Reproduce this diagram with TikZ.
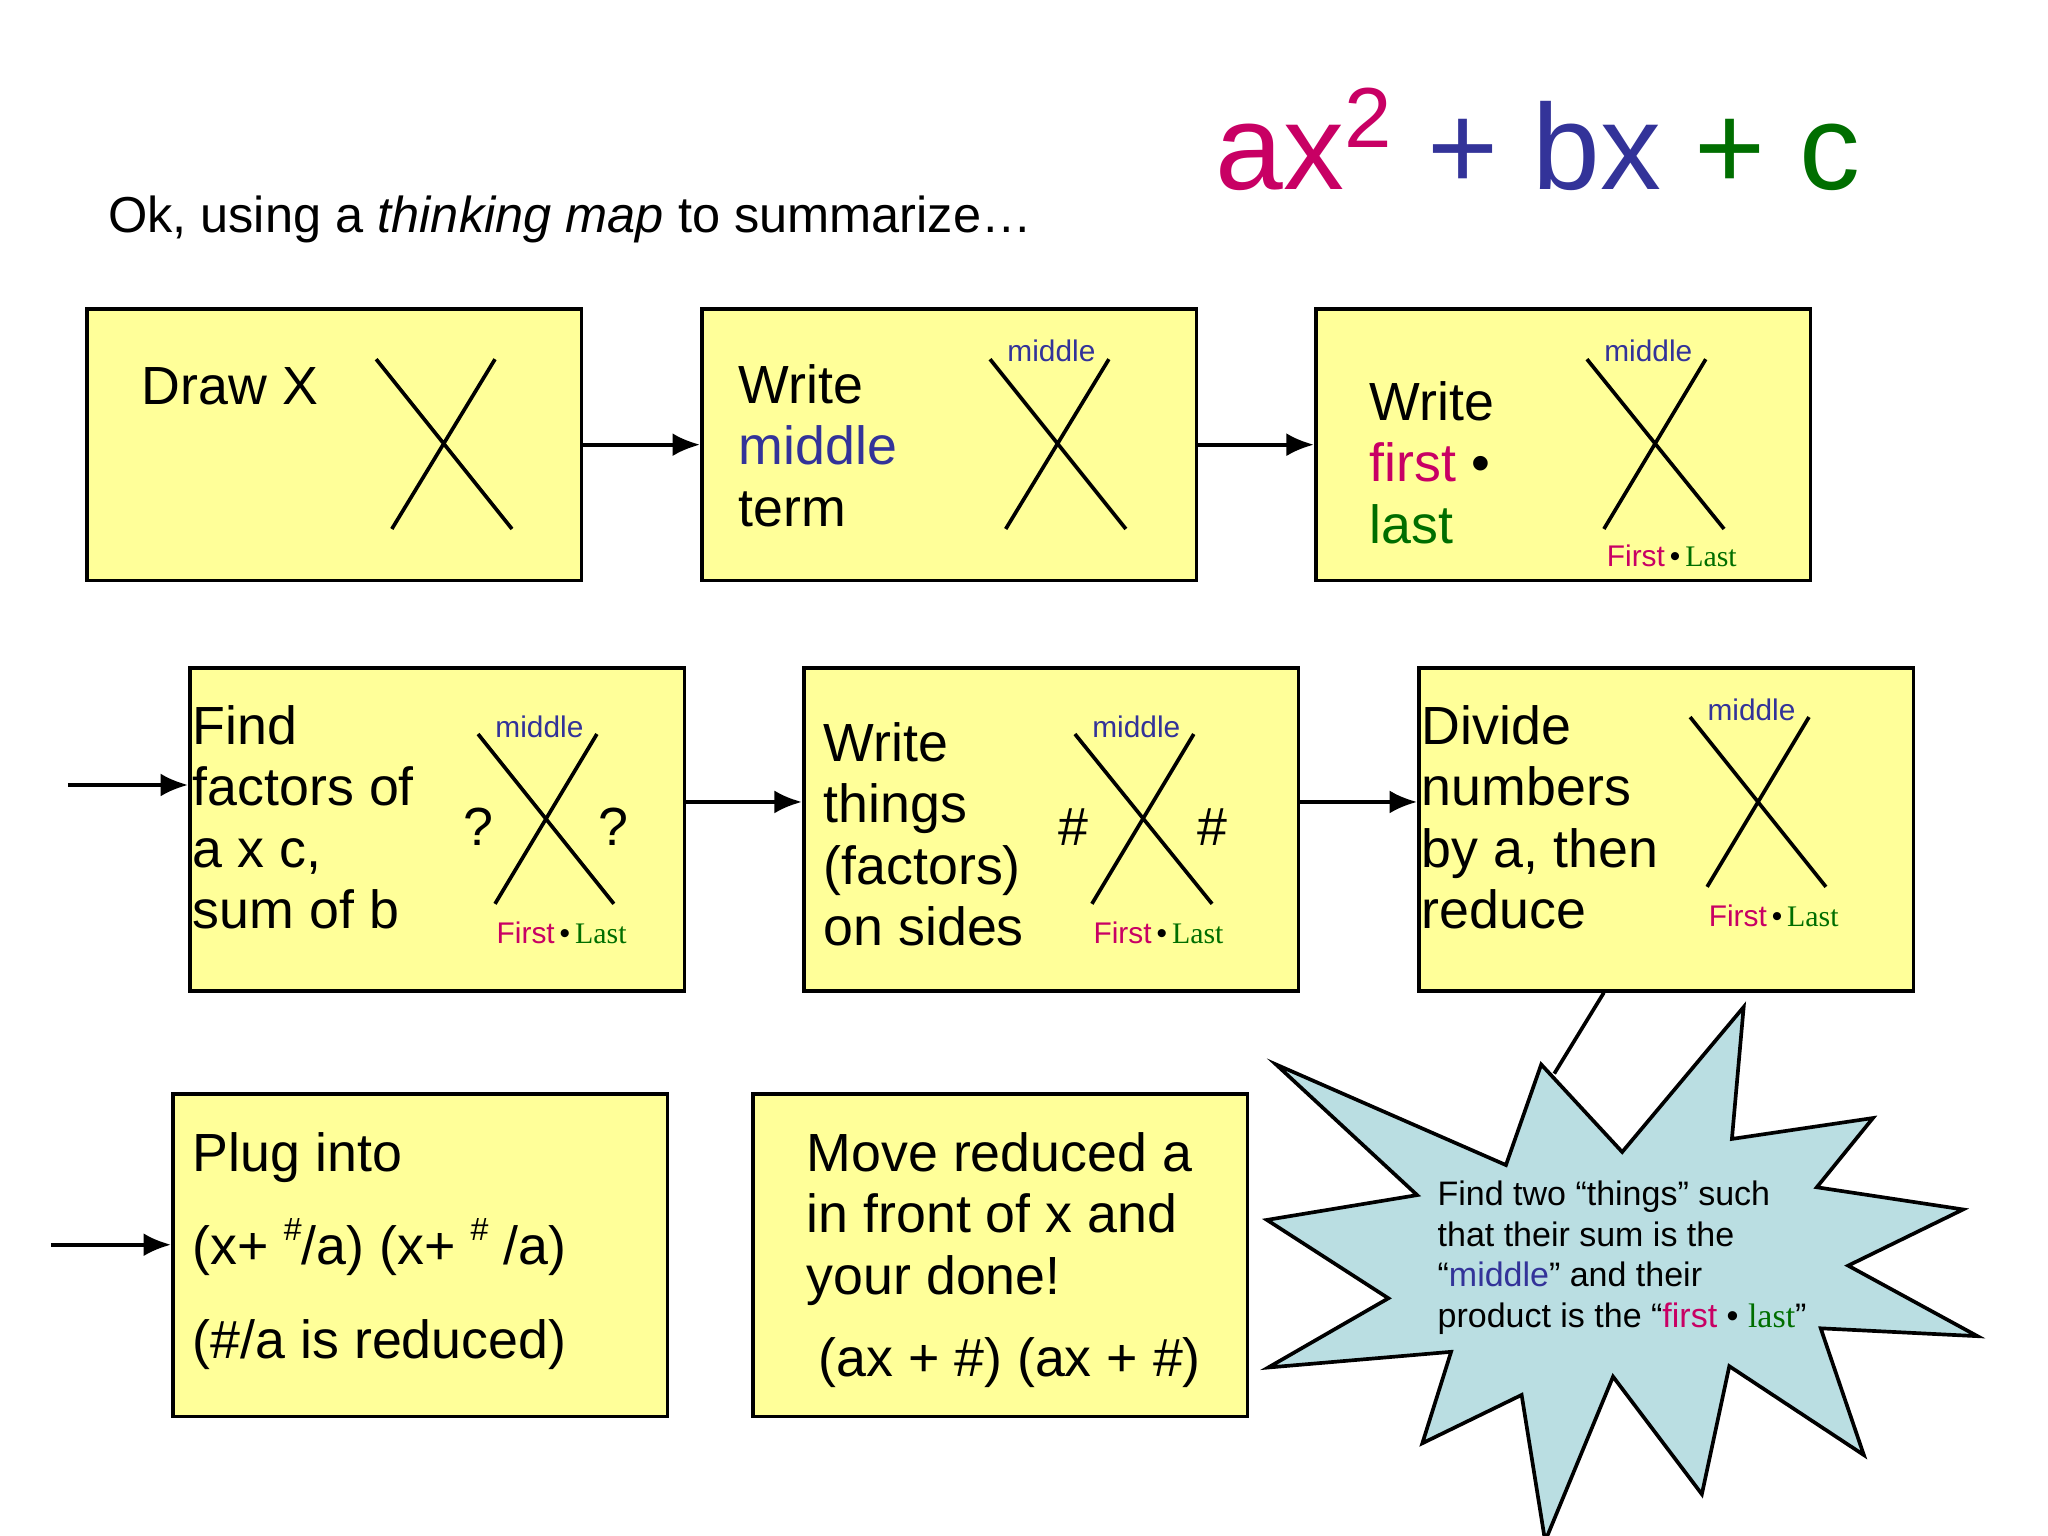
\documentclass[tikz,border=0pt]{standalone}
\usepackage{fontspec}
\setmainfont{Liberation Sans}
\newfontfamily\serifft{Liberation Serif}
\usetikzlibrary{arrows.meta}
\definecolor{mag}{RGB}{200,0,100}
\definecolor{blu}{RGB}{51,51,153}
\definecolor{grn}{RGB}{0,110,0}
\definecolor{boxfill}{RGB}{255,255,153}
\definecolor{starfill}{RGB}{186,222,226}
\newcommand{\FL}{{\color{mag}First}\,\textbullet\,{\serifft\color{grn}Last}}
\tikzset{
  bx/.style={draw=black,fill=boxfill,line width=0.8pt,anchor=north west,inner sep=0pt,minimum width=3.785cm},
  rowa/.style={minimum height=2.08cm},
  rowb/.style={minimum height=2.47cm},
  conn/.style={-{Latex[length=6pt,width=5pt]},line width=0.8pt},
  xl/.style={line width=0.8pt},
  big/.style={anchor=base west,align=left,inner sep=0pt,font=\fontsize{11.7pt}{13.38pt}\selectfont},
  sm/.style={inner sep=0pt,font=\fontsize{6.5pt}{8pt}\selectfont},
  mid/.style={sm,text=blu,anchor=base},
}
\begin{document}
\begin{tikzpicture}[x=0.01cm,y=-0.01cm]
\useasboundingbox (0,0) rectangle (1568,1176);
\fill[white] (0,0) rectangle (1568,1176);
% title
\node[anchor=base west,inner sep=0pt,font=\fontsize{11pt}{13pt}\selectfont] (title) at (82,178) {Ok, using a \textit{thinking map} to summarize\ldots};
\node[anchor=base west,inner sep=0pt,font=\fontsize{26.5pt}{30pt}\selectfont] (eq) at (930,145) {{\color{mag}ax\textsuperscript{2}} {\color{blu}+ bx} {\color{grn}+ c}};
% boxes
\node[bx,rowa] (b1) at (65,235) {};
\node[bx,rowa] (b2) at (536,235) {};
\node[bx,rowa] (b3) at (1006,235) {};
\node[bx,rowb] (b4) at (144,510) {};
\node[bx,rowb] (b5) at (614,510) {};
\node[bx,rowb] (b6) at (1085,510) {};
\node[bx,rowb] (b7) at (131,836) {};
\node[bx,rowb] (b8) at (575,836) {};
% arrows
\draw[conn] (b1.east) -- (b2.west);
\draw[conn] (b2.east) -- (b3.west);
\coordinate (s4) at (52,601);
\draw[conn] (s4) -- (b4.west |- s4);
\coordinate (y5) at (0,614);
\draw[conn] (b4.east |- y5) -- (b5.west |- y5);
\draw[conn] (b5.east |- y5) -- (b6.west |- y5);
\coordinate (s7) at (39,953);
\draw[conn] (s7) -- (b7.west |- s7);
% crosses
\draw[xl] (288,275) -- (392,405) (379,275) -- (300,405);
\draw[xl] (758,275) -- (862,405) (849,275) -- (770,405);
\draw[xl] (1215,275) -- (1320,405) (1306,275) -- (1228,405);
\draw[xl] (366,562) -- (470,692) (457,562) -- (379,692);
\draw[xl] (823,562) -- (928,692) (914,562) -- (836,692);
\draw[xl] (1294,549) -- (1398,679) (1385,549) -- (1307,679);
% small labels
\node[mid] (m2) at (805,277) {middle};
\node[mid] (m3) at (1262,277) {middle};
\node[mid] (m4) at (413,565) {middle};
\node[mid] (m5) at (870,565) {middle};
\node[mid] (m6) at (1341,552) {middle};
\node[sm,anchor=base] (f3) at (1280,434) {\FL};
\node[sm,anchor=base] (f4) at (430,722) {\FL};
\node[sm,anchor=base] (f5) at (887,722) {\FL};
\node[sm,anchor=base] (f6) at (1358,709) {\FL};
\node[big,anchor=base] (q1) at (366,647) {?};
\node[big,anchor=base] (q2) at (470,647) {?};
\node[big,anchor=base] (h1) at (822,647) {\#};
\node[big,anchor=base] (h2) at (928,647) {\#};
% box texts (anchored at baseline of last line)
\node[big] (t1) at (108,310) {Draw X};
\node[big] (t2) at (565,403) {Write\\{\color{blu}middle}\\term};
\node[big] (t3) at (1048,416) {Write\\{\color{mag}first} \textbullet\\{\color{grn}last}};
\node[big] (t4) at (147,711) {Find\\factors of\\a x c,\\sum of b};
\node[big] (t5) at (630,724) {Write\\things\\(factors)\\on sides};
\node[big] (t6) at (1088,711) {Divide\\numbers\\by a, then\\reduce};
\node[big] (t7a) at (147,897) {Plug into};
\node[big] (t7b) at (147,968) {(x+ \raisebox{0.45em}{\fontsize{7pt}{8pt}\selectfont\#}/a) (x+ \raisebox{0.45em}{\fontsize{7pt}{8pt}\selectfont\#} /a)};
\node[big] (t7c) at (147,1040) {(\#/a is reduced)};
\node[big] (t8a) at (617,991) {Move reduced a\\in front of x and\\your done!};
\node[big] (t8b) at (626,1054) {(ax + \#) (ax + \#)};
% starburst
\coordinate (tail) at (1190,822);
\draw[line width=0.8pt] (b6.south -| 1228,0) -- (tail);
\draw[line width=0.8pt,fill=starfill] (977,815) -- (1153,892) -- (1180,815) -- (1242,882) -- (1335,771) -- (1326,872) -- (1434,856) -- (1391,909) -- (1503,926) -- (1415,969) -- (1514,1023) -- (1394,1017) -- (1427,1114) -- (1324,1046) -- (1303,1144) -- (1235,1054) -- (1183,1180) -- (1165,1068) -- (1089,1105) -- (1111,1035) -- (971,1047) -- (1063,994) -- (970,934) -- (1085,915) -- cycle;
\node[anchor=base west,align=left,inner sep=0pt,font=\fontsize{7.4pt}{8.8pt}\selectfont] (st) at (1100,1016) {Find two “things” such\\that their sum is the\\“{\color{blu}middle}” and their\\product is the “{\color{mag}first} \textbullet\ {\serifft\color{grn}last}”};
\end{tikzpicture}
\end{document}
